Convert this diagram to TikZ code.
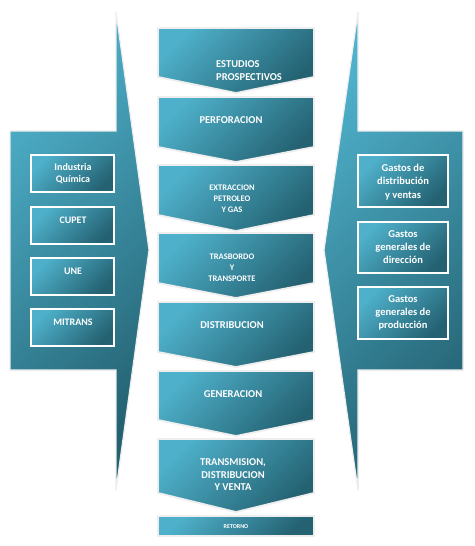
\documentclass[tikz,border=0pt]{standalone}
\usepackage{fontspec}
\setmainfont{Carlito}
\definecolor{tealL}{RGB}{78,176,202}
\definecolor{tealD}{RGB}{36,98,114}
\definecolor{rim}{RGB}{238,238,238}
\begin{document}
\begin{tikzpicture}[x=1pt,y=-1pt,
  grad/.style={top color=tealL, bottom color=tealD, shading angle=45},
  bigarrow/.style={grad, draw=rim, line width=1.2pt, line join=miter},
  chev/.style={grad, draw=rim, line width=1.8pt},
  ibox/.style={grad, draw=white, line width=1.6pt},
  txt/.style={text=white, font=\bfseries\fontsize{10.5}{12.5}\selectfont, align=center, inner sep=0pt},
  txtsmall/.style={txt, font=\bfseries\fontsize{8.5}{11}\selectfont},
  txttiny/.style={txt, font=\bfseries\fontsize{6}{7}\selectfont},
  txtleft/.style={txt, font=\bfseries\fontsize{10}{12}\selectfont},
  txtright/.style={txt, font=\bfseries\fontsize{10.5}{13.2}\selectfont},
]
\useasboundingbox (0,0) rectangle (474,546);
\fill[white] (0,0) rectangle (474,546);

% left big arrow
\path[bigarrow] (10,131) -- (116,131) -- (116,12) -- (149,250) -- (116,490) -- (116,370) -- (10,370) -- cycle;
% right big arrow
\path[bigarrow] (463,131) -- (358,131) -- (358,12) -- (324,250) -- (358,490) -- (358,370) -- (463,370) -- cycle;

% chevrons
\newcommand\mychev[3]{\path[chev] (158,#1) -- (314,#1) -- (314,#2) -- (236,#3) -- (158,#2) -- cycle;}
\mychev{28}{77}{93}
\mychev{97}{147}{162}
\mychev{165}{215}{231}
\mychev{233}{283}{298}
\mychev{302}{352}{367}
\mychev{371}{420}{436}
\mychev{439}{493}{512}
\path[chev] (158,516) rectangle (314,536);

\node[txt, anchor=west, align=left] (c1) at (216,70.5) {ESTUDIOS\\PROSPECTIVOS};
\node[txt] (c2) at (231,120) {PERFORACION};
\node[txtsmall] (c3) at (232,199) {EXTRACCION\\PETROLEO\\Y GAS};
\node[txtsmall] (c4) at (232,268) {TRASBORDO\\Y\\TRANSPORTE};
\node[txt] (c5) at (232,325) {DISTRIBUCION};
\node[txt] (c6) at (233,394) {GENERACION};
\node[txt] (c7) at (233,475) {TRANSMISION,\\DISTRIBUCION\\Y VENTA};
\node[txttiny] (c8) at (236,526.5) {RETORNO};

% left boxes
\path[ibox] (31,155) rectangle (114,192);
\path[ibox] (31,207) rectangle (114,244);
\path[ibox] (31,258) rectangle (114,295);
\path[ibox] (31,309) rectangle (114,346);
\node[txtleft] (l1) at (73,174) {Industria\\Química};
\node[txtleft] (l2) at (73,220) {CUPET};
\node[txtleft] (l3) at (73,271) {UNE};
\node[txtleft] (l4) at (73,322) {MITRANS};

% right boxes
\path[ibox] (358,155) rectangle (448,207);
\path[ibox] (358,222) rectangle (448,273);
\path[ibox] (358,287) rectangle (448,339);
\node[txtright] (r1) at (403,182) {Gastos de\\distribución\\y ventas};
\node[txtright] (r2) at (403,247) {Gastos\\generales de\\dirección};
\node[txtright] (r3) at (403,313) {Gastos\\generales de\\producción};
\end{tikzpicture}
\end{document}
